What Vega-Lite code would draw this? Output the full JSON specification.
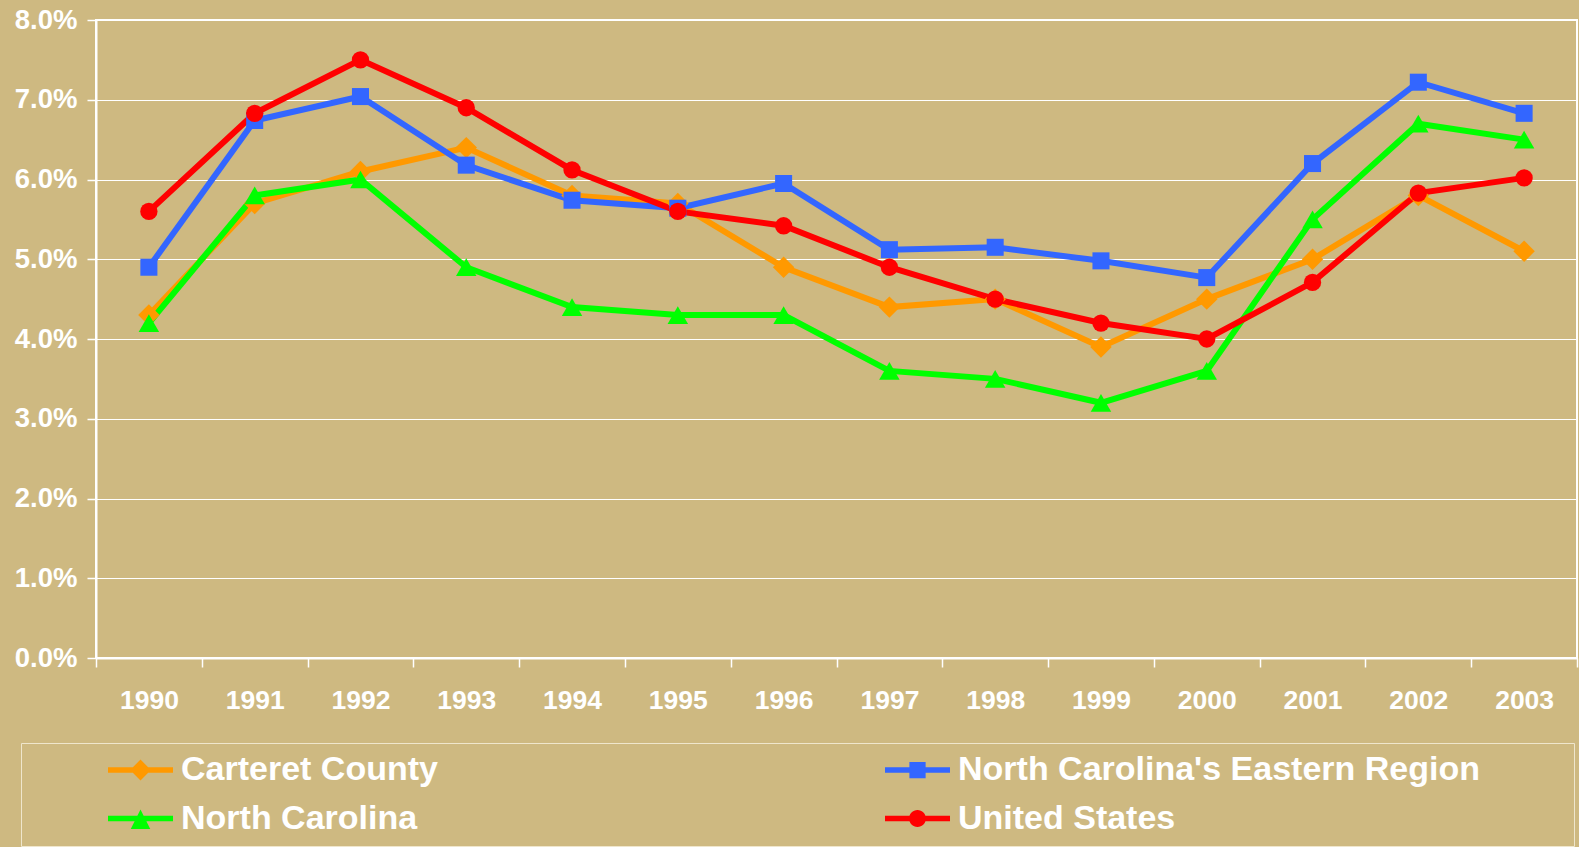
{
  "$schema": "https://vega.github.io/schema/vega-lite/v6.json",
  "autosize": {"type": "none"},
  "width": 1481,
  "height": 638,
  "padding": {"left": 96, "top": 20, "right": 2, "bottom": 189},
  "background": "#CEB981",
  "config": {
    "view": {"stroke": "white", "strokeWidth": 2},
    "font": "Liberation Sans"
  },
  "data": {
    "values": [
      {"year": "1990", "series": "Carteret County", "rate": 4.3},
      {"year": "1991", "series": "Carteret County", "rate": 5.7},
      {"year": "1992", "series": "Carteret County", "rate": 6.1},
      {"year": "1993", "series": "Carteret County", "rate": 6.4},
      {"year": "1994", "series": "Carteret County", "rate": 5.8},
      {"year": "1995", "series": "Carteret County", "rate": 5.7},
      {"year": "1996", "series": "Carteret County", "rate": 4.9},
      {"year": "1997", "series": "Carteret County", "rate": 4.4},
      {"year": "1998", "series": "Carteret County", "rate": 4.5},
      {"year": "1999", "series": "Carteret County", "rate": 3.9},
      {"year": "2000", "series": "Carteret County", "rate": 4.5},
      {"year": "2001", "series": "Carteret County", "rate": 5.0},
      {"year": "2002", "series": "Carteret County", "rate": 5.8},
      {"year": "2003", "series": "Carteret County", "rate": 5.1},
      {"year": "1990", "series": "North Carolina's Eastern Region", "rate": 4.9},
      {"year": "1991", "series": "North Carolina's Eastern Region", "rate": 6.74},
      {"year": "1992", "series": "North Carolina's Eastern Region", "rate": 7.04},
      {"year": "1993", "series": "North Carolina's Eastern Region", "rate": 6.18},
      {"year": "1994", "series": "North Carolina's Eastern Region", "rate": 5.74},
      {"year": "1995", "series": "North Carolina's Eastern Region", "rate": 5.64},
      {"year": "1996", "series": "North Carolina's Eastern Region", "rate": 5.95},
      {"year": "1997", "series": "North Carolina's Eastern Region", "rate": 5.12},
      {"year": "1998", "series": "North Carolina's Eastern Region", "rate": 5.15},
      {"year": "1999", "series": "North Carolina's Eastern Region", "rate": 4.98},
      {"year": "2000", "series": "North Carolina's Eastern Region", "rate": 4.77},
      {"year": "2001", "series": "North Carolina's Eastern Region", "rate": 6.2},
      {"year": "2002", "series": "North Carolina's Eastern Region", "rate": 7.22},
      {"year": "2003", "series": "North Carolina's Eastern Region", "rate": 6.83},
      {"year": "1990", "series": "North Carolina", "rate": 4.2},
      {"year": "1991", "series": "North Carolina", "rate": 5.8},
      {"year": "1992", "series": "North Carolina", "rate": 6.0},
      {"year": "1993", "series": "North Carolina", "rate": 4.9},
      {"year": "1994", "series": "North Carolina", "rate": 4.4},
      {"year": "1995", "series": "North Carolina", "rate": 4.3},
      {"year": "1996", "series": "North Carolina", "rate": 4.3},
      {"year": "1997", "series": "North Carolina", "rate": 3.6},
      {"year": "1998", "series": "North Carolina", "rate": 3.5},
      {"year": "1999", "series": "North Carolina", "rate": 3.2},
      {"year": "2000", "series": "North Carolina", "rate": 3.6},
      {"year": "2001", "series": "North Carolina", "rate": 5.5},
      {"year": "2002", "series": "North Carolina", "rate": 6.7},
      {"year": "2003", "series": "North Carolina", "rate": 6.5},
      {"year": "1990", "series": "United States", "rate": 5.6},
      {"year": "1991", "series": "United States", "rate": 6.83},
      {"year": "1992", "series": "United States", "rate": 7.5},
      {"year": "1993", "series": "United States", "rate": 6.9},
      {"year": "1994", "series": "United States", "rate": 6.12},
      {"year": "1995", "series": "United States", "rate": 5.6},
      {"year": "1996", "series": "United States", "rate": 5.42},
      {"year": "1997", "series": "United States", "rate": 4.9},
      {"year": "1998", "series": "United States", "rate": 4.5},
      {"year": "1999", "series": "United States", "rate": 4.2},
      {"year": "2000", "series": "United States", "rate": 4.0},
      {"year": "2001", "series": "United States", "rate": 4.71},
      {"year": "2002", "series": "United States", "rate": 5.83},
      {"year": "2003", "series": "United States", "rate": 6.02}
    ]
  },
  "encoding": {
    "x": {
      "field": "year", "type": "ordinal",
      "scale": {"type": "band", "paddingInner": 0, "paddingOuter": 0},
      "axis": {
        "title": null, "labelAngle": 0, "grid": false,
        "tickBand": "extent", "tickSize": 9, "tickColor": "white", "tickWidth": 1.5,
        "domainColor": "white", "domainWidth": 2,
        "labelColor": "white", "labelFont": "Liberation Sans", "labelFontWeight": "bold",
        "labelFontSize": 26.5, "labelPadding": 20
      }
    },
    "y": {
      "field": "rate", "type": "quantitative",
      "scale": {"domain": [0, 8], "nice": false},
      "axis": {
        "title": null, "values": [0, 1, 2, 3, 4, 5, 6, 7, 8],
        "labelExpr": "format(datum.value, '.1f') + '%'",
        "grid": true, "gridColor": "white", "gridWidth": 1, "gridOpacity": 1,
        "tickSize": 9, "tickColor": "white", "tickWidth": 1.5,
        "domainColor": "white", "domainWidth": 2,
        "labelColor": "white", "labelFont": "Liberation Sans", "labelFontWeight": "bold",
        "labelFontSize": 27.5, "labelPadding": 10
      }
    }
  },
  "layer": [
    {
      "mark": {"type": "line", "strokeWidth": 6},
      "encoding": {
        "color": {
          "field": "series", "type": "nominal",
          "sort": ["Carteret County", "North Carolina's Eastern Region", "North Carolina", "United States"],
          "scale": {
            "domain": ["Carteret County", "North Carolina's Eastern Region", "North Carolina", "United States"],
            "range": ["#FF9900", "#3366FF", "#00FF00", "#FF0000"]
          },
          "legend": {
            "orient": "none", "legendX": -75, "legendY": 723, "direction": "horizontal",
            "title": " ", "titleOrient": "right", "titlePadding": 86, "titleFontSize": 11,
            "columns": 2, "columnPadding": 368, "rowPadding": 10.5,
            "padding": 8, "strokeColor": "#EFE6CC", "clipHeight": 38,
            "symbolOffset": 79, "symbolSize": 4225, "symbolStrokeWidth": 0, "symbolType": "square",
            "labelOffset": 8, "labelLimit": 0,
            "labelFont": "Liberation Sans", "labelFontWeight": "bold", "labelFontSize": 34, "labelColor": "white",
            "encode": {
              "symbols": {
                "update": {
                  "shape": {"signal": "datum.value === 'Carteret County' ? 'M-1,-0.085L1,-0.085L1,0.085L-1,0.085Z M0,-0.32L0.32,0L0,0.32L-0.32,0Z' : datum.value === 'North Carolina\\'s Eastern Region' ? 'M-1,-0.085L1,-0.085L1,0.085L-1,0.085Z M-0.25,-0.25L0.25,-0.25L0.25,0.25L-0.25,0.25Z' : datum.value === 'North Carolina' ? 'M-1,-0.085L1,-0.085L1,0.085L-1,0.085Z M0,-0.28L0.3,0.32L-0.3,0.32Z' : 'M-1,-0.085L1,-0.085L1,0.085L-1,0.085Z M-0.26,0A0.26,0.26,0,1,1,0.26,0A0.26,0.26,0,1,1,-0.26,0Z'"},
                  "fill": {"signal": "datum.value === 'Carteret County' ? '#FF9900' : datum.value === 'North Carolina\\'s Eastern Region' ? '#3366FF' : datum.value === 'North Carolina' ? '#00FF00' : '#FF0000'"},
                  "fillOpacity": {"value": 1},
                  "strokeWidth": {"value": 0}
                }
              }
            }
          }
        }
      }
    },
    {
      "transform": [{"filter": "datum.series === 'Carteret County'"}],
      "mark": {"type": "point", "filled": true, "opacity": 1, "shape": "diamond", "size": 460, "color": "#FF9900"}
    },
    {
      "transform": [{"filter": "datum.series === 'North Carolina\\'s Eastern Region'"}],
      "mark": {"type": "point", "filled": true, "opacity": 1, "shape": "square", "size": 290, "color": "#3366FF"}
    },
    {
      "transform": [{"filter": "datum.series === 'North Carolina'"}],
      "mark": {"type": "point", "filled": true, "opacity": 1, "shape": "triangle-up", "size": 420, "color": "#00FF00"}
    },
    {
      "transform": [{"filter": "datum.series === 'United States'"}],
      "mark": {"type": "point", "filled": true, "opacity": 1, "shape": "circle", "size": 300, "color": "#FF0000"}
    }
  ]
}
